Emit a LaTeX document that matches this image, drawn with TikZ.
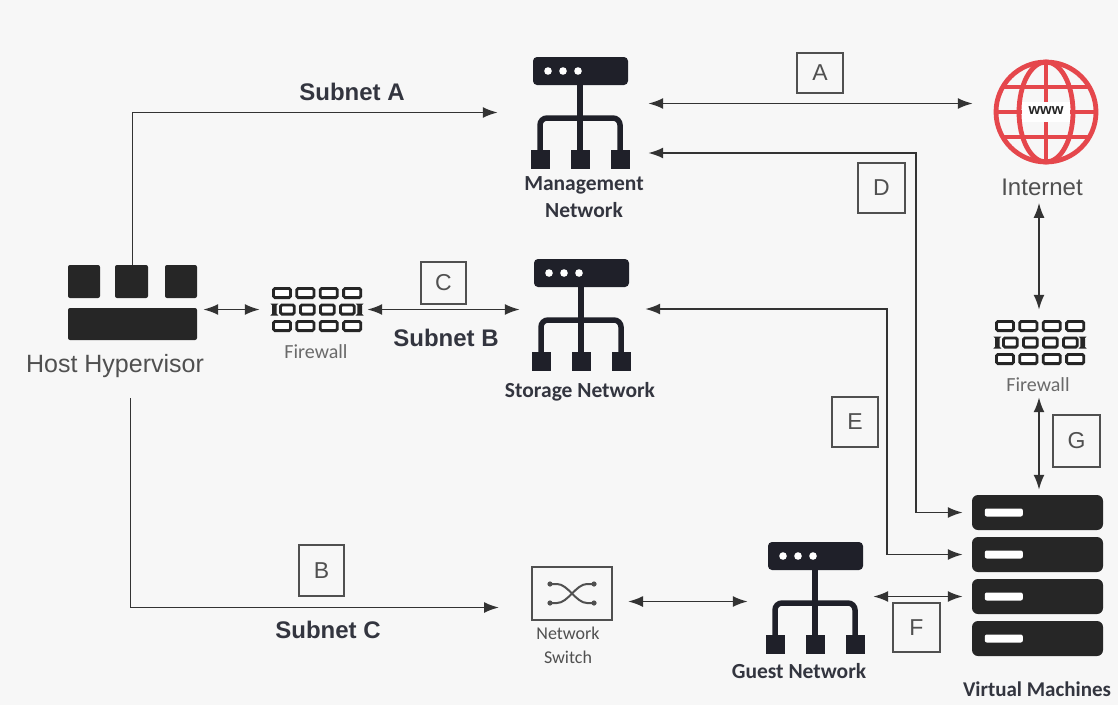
\documentclass[tikz,border=0pt]{standalone}
\usepackage{fontspec}
\setmainfont{Liberation Sans}
\newfontfamily\carl{Carlito}
\usetikzlibrary{arrows.meta,calc}
\definecolor{ink}{HTML}{262626}
\definecolor{navy}{HTML}{1F2029}
\definecolor{linec}{HTML}{333333}
\definecolor{globec}{HTML}{E5474C}
\definecolor{txt}{HTML}{33353F}
\definecolor{gtxt}{HTML}{505050}
\definecolor{ltxt}{HTML}{6A6A6A}
\definecolor{bgc}{HTML}{F7F7F7}
\tikzset{
  conn/.style={line width=1.9pt, draw=linec},
  tip/.tip={Latex[length=15pt,width=11pt]},
  arr/.style={conn, -tip},
  dbl/.style={conn, tip-tip},
  lbox/.style={draw=gtxt, line width=1.5pt, inner sep=0pt, text=gtxt,
    font=\fontsize{23}{23}\selectfont},
  subnet/.style={font=\bfseries\fontsize{24}{28}\selectfont, text=txt},
  netlbl/.style={font=\carl\bfseries\fontsize{21.5}{27}\selectfont, text=txt, align=center},
  fwlbl/.style={font=\carl\fontsize{20}{24}\selectfont, text=ltxt},
  biglbl/.style={font=\fontsize{25}{28}\selectfont, text=gtxt},
  area/.style={inner sep=0pt, draw=none},
  server/.style={fill=ink, rounded corners=6pt, minimum width=131pt, minimum height=35pt, inner sep=0pt},
  brick/.style={draw=ink, line width=2.8pt, fill=white, rounded corners=1.5pt},
  netico/.pic={
    \fill[navy, rounded corners=4pt] (-47,-14) rectangle (48,14);
    \foreach \dx in {-32,-17,-2} \fill[white] (\dx,0) circle[radius=3.8pt];
    \draw[navy, line width=5.5pt] (0,14) -- (0,80);
    \draw[navy, line width=5.5pt, rounded corners=7pt] (-40,80) -- (-40,47) -- (40,47) -- (40,80);
    \foreach \dx in {-40,0,40} \fill[navy] (\dx-9.5,79) rectangle (\dx+9.5,98);
  },
  wall/.pic={
    \foreach \bx in {0,23.4,46.8,70.2} {
      \draw[brick] (\bx+1.4,1.4) rectangle (\bx+18.5,10.6);
      \draw[brick] (\bx+1.4,34.4) rectangle (\bx+18.5,43.6);
    }
    \draw[brick] (1.4,17.9) rectangle (3.2,27.1);
    \foreach \bx in {7,27,47,67} \draw[brick] (\bx+1.4,17.9) rectangle (\bx+15.2,27.1);
    \draw[brick] (86.8,17.9) rectangle (88.6,27.1);
  }
}
\begin{document}
\begin{tikzpicture}[x=1pt,y=-1pt]
\useasboundingbox[fill=bgc] (0,0) rectangle (1118,705);

% ---------- Host hypervisor ----------
\node[area, minimum width=129pt, minimum height=75pt] (hyp) at (132.5,302.5) {};
\fill[ink, rounded corners=2pt] (68,265) rectangle (100,298);
\fill[ink, rounded corners=2pt] (115,265) rectangle (148,298);
\fill[ink, rounded corners=2pt] (165,265) rectangle (197,298);
\fill[ink, rounded corners=2pt] (68,308) rectangle (197,340);
\node[biglbl] (hyplbl) at (115,366) {Host Hypervisor};

% ---------- Left firewall ----------
\node[area, minimum width=90pt, minimum height=45pt] (fwL) at (317,309.5) {};
\pic at (272,287) {wall};
\node[fwlbl] (fwLlbl) at (316,352) {Firewall};

% ---------- Management network ----------
\node[area, minimum width=100pt, minimum height=111pt] (mgmt) at (582,112.5) {};
\pic at (580,71) {netico};
\node[netlbl] (mgmtlbl) at (584,197) {Management\\Network};

% ---------- Storage network ----------
\node[area, minimum width=100pt, minimum height=108pt] (stor) at (582,314) {};
\pic at (581,273) {netico};
\node[netlbl] (storlbl) at (580,392) {Storage Network};

% ---------- Guest network ----------
\node[area, minimum width=93pt, minimum height=109pt] (guest) at (813.5,597.5) {};
\pic at (815,556) {netico};
\node[netlbl] (guestlbl) at (799,671) {Guest Network};

% ---------- Internet ----------
\node[area, circle, minimum size=104pt] (inet) at (1046,112) {};
\begin{scope}[draw=globec, line width=4.8pt]
  \draw (1046,112) circle[radius=50pt];
  \draw (1046,112) ellipse[x radius=27pt, y radius=50pt];
  \draw (1046,62) -- (1046,162);
  \draw (1002.7,87) -- (1089.3,87);
  \draw (1002.7,137) -- (1089.3,137);
  \draw (996,112) -- (1096,112);
\end{scope}
\fill[white] (1022,102) rectangle (1070,122);
\node[font=\bfseries\fontsize{15}{15}\selectfont, text=ink, inner sep=0pt] (www) at (1046,111) {www};
\node[biglbl, font=\fontsize{24}{28}\selectfont] (inetlbl) at (1042,187) {Internet};

% ---------- Right firewall ----------
\node[area, minimum width=88pt, minimum height=45pt] (fwR) at (1039,342.5) {};
\pic at (995,320) {wall};
\node[fwlbl] (fwRlbl) at (1038,385) {Firewall};

% ---------- Virtual machines ----------
\node[server] (vm1) at (1037.5,512.5) {};
\node[server] (vm2) at (1037.5,554.5) {};
\node[server] (vm3) at (1037.5,596.5) {};
\node[server] (vm4) at (1037.5,638.5) {};
\foreach \v in {vm1,vm2,vm3,vm4}
  \fill[white, rounded corners=2pt] ($(\v.west)+(13,-4)$) rectangle ++(38,8);
\node[netlbl, font=\carl\bfseries\fontsize{21}{25}\selectfont] (vmlbl) at (1037,689) {Virtual Machines};

% ---------- Network switch ----------
\node[draw=gtxt, line width=2pt, minimum width=80pt, minimum height=53pt, inner sep=0pt] (sw) at (572,593.5) {};
\begin{scope}[draw=gtxt, line width=2pt]
  \draw (550,584) -- (557,584) .. controls (568,584) and (576,603) .. (587,603) -- (594,603);
  \draw (550,603) -- (557,603) .. controls (568,603) and (576,584) .. (587,584) -- (594,584);
\end{scope}
\foreach \p in {(550,584),(550,603),(594,584),(594,603)} \fill[gtxt] \p circle[radius=2.6pt];
\node[fwlbl, font=\carl\fontsize{18}{24}\selectfont, text=gtxt, align=center] (swlbl) at (568,645) {Network\\Switch};

% ---------- Subnet labels ----------
\node[subnet] (subA) at (352,92) {Subnet A};
\node[subnet] (subB) at (446,338) {Subnet B};
\node[subnet] (subC) at (328,630) {Subnet C};

% ---------- Letter boxes ----------
\node[lbox, minimum width=46pt, minimum height=40pt] (bA) at (820,73) {A};
\node[lbox, minimum width=45pt, minimum height=51pt] (bB) at (321.5,570.5) {B};
\node[lbox, minimum width=45pt, minimum height=42pt] (bC) at (443.5,283) {C};
\node[lbox, minimum width=47pt, minimum height=50pt] (bD) at (881.5,188) {D};
\node[lbox, minimum width=46pt, minimum height=50pt] (bE) at (855,422) {E};
\node[lbox, minimum width=47pt, minimum height=49pt] (bF) at (916.5,627.5) {F};
\node[lbox, minimum width=47pt, minimum height=52pt] (bG) at (1076.5,441) {G};

% ---------- Connectors ----------
% Subnet A
\draw[arr] (hyp.north) |- ($(mgmt.west)+(-34,0)$);
% Subnet C
\draw[arr] ($(hyp.south)+(-2,58)$) |- ($(sw.west)+(-32,14)$);
% hypervisor <-> firewall
\draw[dbl] ($(hyp.east |- fwL.west)+(6,0)$) -- ($(fwL.west)+(-12,0)$);
% firewall <-> storage (C / Subnet B)
\draw[dbl] ($(fwL.east)+(5,0)$) -- ($(stor.west |- fwL.east)+(-12,0)$);
% A: management <-> internet
\draw[dbl] ($(mgmt.east)+(16,-9)$) -- ($(inet.west |- mgmt.east)+(-21,-9)$);
% D: management <-> VM1
\draw[dbl] ($(mgmt.east)+(16,40.5)$) -| ($(vm1.west)+(-56,0)$) -- ($(vm1.west)+(-9,0)$);
% E: storage <-> VM2
\draw[dbl] ($(stor.east)+(13,-5)$) -| ($(vm2.west)+(-85,0)$) -- ($(vm2.west)+(-9,0)$);
% F: guest <-> VM3
\draw[dbl] ($(guest.east |- vm3.west)+(13,0)$) -- ($(vm3.west)+(-9,0)$);
% switch <-> guest
\draw[dbl] ($(sw.east)+(15,8)$) -- ($(guest.west |- sw.east)+(-19,8)$);
% internet <-> right firewall
\draw[dbl] ($(fwR.north)+(0,-117)$) -- ($(fwR.north)+(0,-10)$);
% G: right firewall <-> VMs
\draw[dbl] ($(fwR.south)+(0,32)$) -- ($(vm1.north -| fwR.south)+(0,-5)$);
\end{tikzpicture}
\end{document}
